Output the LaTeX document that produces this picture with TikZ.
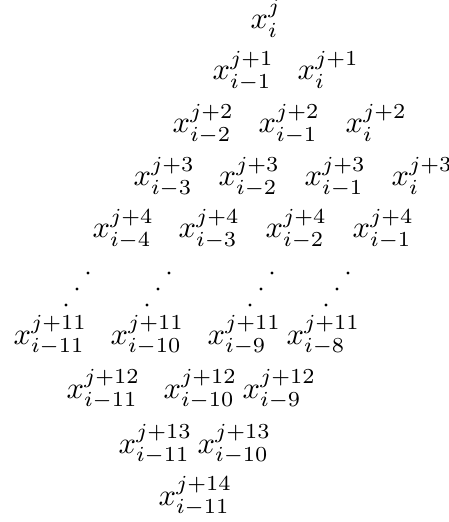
\documentclass[tikz,border=0pt]{standalone}
\usepackage{amsmath,amssymb}
\usepackage{tikz}
\usetikzlibrary{positioning}

\begin{document}
\begin{tikzpicture}[x=0.327pt, y=-0.327pt, entry/.style={anchor=base west, inner sep=0pt}]
  \useasboundingbox (0,0) rectangle (448,522);
  % step j
  \node[entry] (r0a) at (250, 28.5) {$x_{i}^{j}$};
  % steps j+1 .. j+4
  \node[entry] (r1a) at (212, 80) {$x_{i-1}^{j+1}$};
  \node[entry] (r1b) at (297, 80) {$x_{i}^{j+1}$};
  \node[entry] (r2a) at (172, 133) {$x_{i-2}^{j+2}$};
  \node[entry] (r2b) at (258, 133) {$x_{i-1}^{j+2}$};
  \node[entry] (r2c) at (345, 133) {$x_{i}^{j+2}$};
  \node[entry] (r3a) at (133, 186) {$x_{i-3}^{j+3}$};
  \node[entry] (r3b) at (218, 186) {$x_{i-2}^{j+3}$};
  \node[entry] (r3c) at (304, 186) {$x_{i-1}^{j+3}$};
  \node[entry] (r3d) at (391, 186) {$x_{i}^{j+3}$};
  \node[entry] (r4a) at (92, 238) {$x_{i-4}^{j+4}$};
  \node[entry] (r4b) at (178, 238) {$x_{i-3}^{j+4}$};
  \node[entry] (r4c) at (265, 238) {$x_{i-2}^{j+4}$};
  \node[entry] (r4d) at (352, 238) {$x_{i-1}^{j+4}$};
  % dots
  \foreach \dx in {0, 81, 184, 260} {
    \fill (66+\dx, 305) circle (1.6);
    \fill (77+\dx, 289) circle (1.6);
    \fill (88+\dx, 273) circle (1.6);
  }
  % steps j+11 .. j+14
  \node[entry] (r11a) at (13, 344) {$x_{i-11}^{j+11}$};
  \node[entry] (r11b) at (110, 344) {$x_{i-10}^{j+11}$};
  \node[entry] (r11c) at (207, 344) {$x_{i-9}^{j+11}$};
  \node[entry] (r11d) at (286, 344) {$x_{i-8}^{j+11}$};
  \node[entry] (r12a) at (66, 398) {$x_{i-11}^{j+12}$};
  \node[entry] (r12b) at (163, 398) {$x_{i-10}^{j+12}$};
  \node[entry] (r12c) at (242, 398) {$x_{i-9}^{j+12}$};
  \node[entry] (r13a) at (118, 453) {$x_{i-11}^{j+13}$};
  \node[entry] (r13b) at (197, 453) {$x_{i-10}^{j+13}$};
  \node[entry] (r14a) at (158, 505) {$x_{i-11}^{j+14}$};
\end{tikzpicture}
\end{document}
